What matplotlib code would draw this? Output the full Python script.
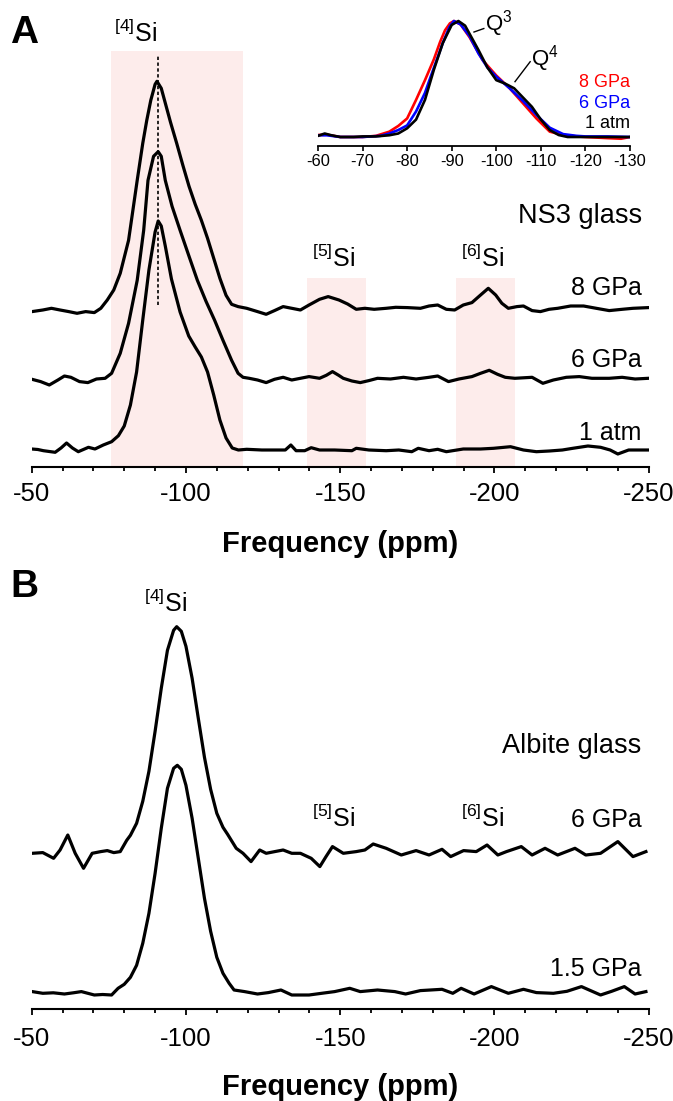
import matplotlib
matplotlib.use("Agg")
import matplotlib.pyplot as plt
from matplotlib.patches import Rectangle

plt.rcParams['font.family'] = ['Liberation Sans', 'DejaVu Sans']
plt.rcParams['mathtext.fontset'] = 'custom'
plt.rcParams['mathtext.rm'] = 'Liberation Sans'
plt.rcParams['mathtext.it'] = 'Liberation Sans:italic'
plt.rcParams['mathtext.bf'] = 'Liberation Sans:bold'

# ---------------- data (ppm, intensity) ----------------
NS3_8GPA = [(-50.1,-3.3),(-53.6,-1.7),(-56.4,0),(-59.2,-1.7),(-62,-3.3),(-64.7,-5),(-67.5,-3.3),(-70.3,-4.3),
            (-72.4,0),(-74.5,8.3),(-76.6,18.3),(-78.7,35),(-81.4,68),(-84.2,128),(-86,165),(-87.3,188),(-88.6,208),
            (-90,224),(-90.6,227),(-92,220),(-93.5,203),(-95,186),(-97,165),(-99,143),(-101,122),(-103,104),(-105,88),
            (-107,70),(-109,50),(-111,30),(-113,13),(-114.8,4),(-116.9,1.7),(-119.7,0),(-123.2,-3.3),(-126,-6),
            (-128.7,-2.3),(-131.5,1.7),(-134.3,0),(-137.1,-1.7),(-139.9,3.3),(-143.3,9),(-146.1,11.7),(-149.6,8.3),
            (-152.4,4.3),(-155.2,-1),(-158,0),(-161,-1),(-164.9,0),(-168,1),(-171.8,0.7),(-176,0),(-178.8,2.3),
            (-181.6,3.3),(-184.4,-1),(-187.1,-1.7),(-189.9,3.3),(-192.7,5.7),(-195.5,13.3),(-198,20),(-200.4,13.3),
            (-202.4,5),(-204.5,0),(-207.3,1.7),(-209.4,2.3),(-212.2,-2.3),(-214.9,-3.3),(-217.7,-1),(-220.5,0),
            (-224.7,2.3),(-228.9,2.3),(-233,0),(-237.2,-2.3),(-241.4,-1),(-244.9,0),(-249.9,0.7)]

NS3_6GPA = [(-50.1,-1),(-52.9,-3.3),(-55.7,-6.7),(-58.5,-1.7),(-60.6,2.3),(-62.7,1),(-65.5,-3.3),(-68.2,-4.3),
            (-71,-0.7),(-73.8,0),(-75.9,5),(-78.7,25),(-81.4,55),(-84.2,98),(-86.3,148),(-87.7,198),(-89.5,222),
            (-91,226.6),(-92,222),(-93.3,198),(-95.5,172),(-98.1,148),(-101,122),(-103.7,98),(-106.5,77),(-109.3,58),
            (-112,38),(-114.8,18),(-116.9,5),(-118.5,1),(-120.5,0),(-123.2,-1.7),(-126,-4.3),(-128.7,-1),(-131.5,1),
            (-134.3,-1.7),(-137.1,0),(-139.9,1.7),(-143.3,0),(-145.5,3),(-147.5,6.7),(-149.5,3),(-151,0),(-153.8,-2.7),
            (-156.5,-4.3),(-159.3,-2.3),(-162.1,0),(-166.3,-0.7),(-170.5,1),(-174.6,-0.7),(-178.8,1),(-181.6,2.3),
            (-185.1,-3.3),(-188.5,-0.7),(-192.7,1.7),(-195.5,5),(-198.3,8),(-201,4),(-203.5,1),(-206.6,0),(-212.2,1),
            (-215.7,-5),(-219.1,-1.7),(-223.3,1),(-227.5,1.7),(-231.6,0),(-237.2,0),(-241.4,1),(-245.6,-0.7),(-249.9,0)]

NS3_1ATM = [(-50,1),(-52,0.5),(-53.8,-0.7),(-57.6,-2.3),(-59.5,2),(-61.3,7),(-63.2,2),(-65.1,-1.7),(-68.4,2.7),
            (-70.5,1),(-73.2,5),(-75.9,8.3),(-78.1,14.3),(-80,24),(-82,45),(-84,78),(-86,130),(-88,180),(-90,218),
            (-91,229),(-92,224),(-93.3,204),(-95.3,171),(-98.1,138),(-100.9,114),(-103,103),(-105,93),(-107,78),
            (-109,55),(-111,30),(-113,12),(-115,2),(-117,0),(-119.7,0.7),(-124.6,0),(-128.7,0),(-132.2,0),(-134,5),
            (-135.7,-0.7),(-138.5,-0.7),(-140.6,2.3),(-143.3,0),(-148.2,0),(-153.8,-0.7),(-155.2,1.7),(-159.3,0),
            (-164.9,-0.7),(-169,0),(-173.2,-1.7),(-175.3,1.7),(-178.8,-0.7),(-181.6,0.7),(-184.4,-1.7),(-189.9,1),
            (-195.5,1),(-199.7,1.7),(-205.2,3.3),(-209.4,0),(-213.6,-1.7),(-217.8,-1),(-222,0),(-225.4,1.7),
            (-230.3,4),(-234.4,2.7),(-237.5,0),(-240,-4),(-243.5,0),(-249.9,0)]

ALB_6GPA = [(-50.2,0),(-53.6,0.7),(-57.1,-5),(-59.2,3.3),(-61.7,18.3),(-64.1,0),(-66.8,-15),(-69.6,0),(-72.4,1.7),
            (-74.5,2.7),(-76.6,0.7),(-78.7,1.7),(-80.8,13),(-82,18),(-84,30),(-86,52),(-88,82),(-90,122),(-92,165),
            (-94,203),(-96,223),(-97,226.6),(-98.5,222),(-100,207),(-102,175),(-104,135),(-106,96),(-108,64),(-110,40),
            (-112,26),(-113.5,19),(-116.3,5),(-118.5,0),(-121.1,-8.3),(-123.9,3.3),(-126,0),(-128.8,1.7),(-131.5,3.3),
            (-134.3,0),(-137.1,0),(-140.6,-5),(-143.4,-13.3),(-145.4,-3.3),(-147.5,6.7),(-151,0),(-155.2,1.7),
            (-158,3.3),(-160.7,9.3),(-164.9,5),(-169.8,-1.7),(-174.6,2.7),(-178.8,-1.7),(-183,4),(-185.8,-3.3),
            (-190,2.7),(-194.1,1.7),(-197.6,8.3),(-201.1,-1.7),(-203.9,1.7),(-208.7,6.7),(-212.2,-1.7),(-216.4,5),
            (-220.5,-1.7),(-226.1,5),(-229.6,-1.7),(-234.4,0),(-240,11.7),(-244.9,-3.3),(-249.1,1.7)]

ALB_15GPA = [(-50.2,1.7),(-53.6,0),(-57,0.5),(-60.6,-0.7),(-63.5,0.5),(-66.1,1.7),(-70.3,-1.7),(-73,-1.2),
             (-75.9,-1.7),(-78,5),(-80,9),(-82,16),(-84,28),(-86,50),(-88,80),(-90,120),(-92,165),(-94,205),(-96,225),
             (-97.2,228),(-98.5,224),(-100,208),(-102,175),(-104,135),(-106,95),(-108,62),(-110,36),(-112,20),(-114,10),
             (-115.6,3.3),(-119,1.7),(-123.2,-0.7),(-126.7,0.7),(-130.8,3.3),(-134.3,-1.7),(-139.9,-1.7),(-144,0),
             (-148.2,1.7),(-153.1,5),(-156.5,1.7),(-162.1,3.3),(-167.7,1.7),(-171.2,-0.7),(-176,2.7),(-183,4),
             (-186.5,0),(-189.2,5),(-193.4,-0.7),(-199,6.7),(-204.5,0),(-209.4,4),(-213.6,0.7),(-219.1,0),(-223.5,2),
             (-228.2,6.7),(-234.4,-1.7),(-238,2),(-242.1,6.7),(-245.6,-0.7),(-249.1,1.7)]

INSET_8GPA = [(-60,0.017),(-62,0.02),(-65,0.0),(-70,0.0),(-73,0.01),(-76,0.046),(-78,0.095),(-80,0.16),(-82,0.32),
              (-84,0.49),(-85,0.58),(-86,0.67),(-87.4,0.82),(-88.5,0.92),(-89.6,0.98),(-90.5,1.0),(-92,0.97),(-94,0.86),
              (-97,0.66),(-100,0.53),(-103,0.42),(-106,0.29),(-109,0.16),(-112,0.046),(-115,0.017),(-118,0.005),
              (-120,0.0),(-125,-0.01),(-128,-0.015),(-130,0.0)]
INSET_6GPA = [(-60,0.015),(-62,0.015),(-65,0.0),(-70,0.0),(-74,0.01),(-76,0.03),(-78,0.06),(-80,0.10),(-82,0.22),
              (-84,0.38),(-85,0.49),(-86.5,0.65),(-88,0.81),(-89.5,0.95),(-90.5,1.0),(-92,0.97),(-94,0.87),(-96,0.72),
              (-98,0.6),(-100,0.52),(-103,0.42),(-106,0.31),(-109,0.19),(-112,0.08),(-115,0.025),(-118,0.01),
              (-120,0.005),(-125,0.005),(-130,0.0)]
INSET_1ATM = [(-60,0.01),(-61.5,0.03),(-63,0.015),(-65,0.0),(-68,0.0),(-70,0.005),(-73,0.005),(-76,0.015),(-78,0.03),
              (-80,0.075),(-82,0.15),(-84,0.32),(-86,0.58),(-88,0.81),(-90,0.966),(-91.5,1.0),(-93,0.96),(-94,0.89),
              (-96,0.75),(-98,0.6),(-100,0.49),(-102,0.46),(-104,0.42),(-106,0.34),(-108,0.26),(-110,0.15),(-112,0.06),
              (-114,0.017),(-116,0.0),(-120,0.0),(-125,0.0),(-130,0.0)]

# shaded regions (ppm) and peak marker
SI4_BAND = (-75.6, -118.5)
SI5_BAND = (-139.2, -158.4)
SI6_BAND = (-187.4, -206.7)
SI4_POS = -91.1

MAIN_TICKS = [-50, -100, -150, -200, -250]
INSET_TICKS = [-60, -70, -80, -90, -100, -110, -120, -130]

# ---------------- figure ----------------
W, H = 673, 1101
fig = plt.figure(figsize=(W / 100, H / 100), dpi=100)

def fx(px):
    return px / W

def fy(py):
    return 1 - py / H

def split(pairs):
    return [p[0] for p in pairs], [p[1] for p in pairs]

PINK = '#fdeceb'
LW = 2.3
FS = 18

def style_axis(ax, pad):
    for s in ['left', 'right', 'top']:
        ax.spines[s].set_visible(False)
    ax.spines['bottom'].set_linewidth(1.5)
    ax.set_yticks([])
    ax.set_xlim(-50, -250)
    ax.set_xticks(MAIN_TICKS)
    ax.set_xticklabels([str(t) for t in MAIN_TICKS])
    ax.set_xticks(list(range(-60, -250, -10)), minor=True)
    ax.tick_params(axis='x', which='major', direction='out', length=4.5, width=1.3,
                   labelsize=18.5, pad=pad)
    ax.tick_params(axis='x', which='minor', direction='out', length=3, width=1.3)
    ax.patch.set_alpha(0)

# ---------------- panel A ----------------
axA = fig.add_axes([fx(31.7), fy(467), (648.7 - 31.7) / W, (467 - 40) / H])
axA.set_ylim(0, 427)
style_axis(axA, 6.0)

axA.add_patch(Rectangle((SI4_BAND[0], 0), SI4_BAND[1] - SI4_BAND[0], 416, color=PINK, lw=0, zorder=0))
axA.add_patch(Rectangle((SI5_BAND[0], 0), SI5_BAND[1] - SI5_BAND[0], 189.3, color=PINK, lw=0, zorder=0))
axA.add_patch(Rectangle((SI6_BAND[0], 0), SI6_BAND[1] - SI6_BAND[0], 189.3, color=PINK, lw=0, zorder=0))
axA.plot([SI4_POS, SI4_POS], [162, 411], color='black', lw=1.2, ls=(0, (2, 1.5)), zorder=1)

for pairs, off in [(NS3_8GPA, 158.7), (NS3_6GPA, 88.7), (NS3_1ATM, 17)]:
    x, y = split(pairs)
    axA.plot(x, [v + off for v in y], color='black', lw=LW, solid_joinstyle='round', zorder=3)

# inset
axI = fig.add_axes([fx(318), fy(146), (630 - 318) / W, (146 - 15) / H])
axI.set_xlim(-60, -130)
axI.set_ylim(-9 / 116, 1 + 6 / 116)
for s in ['left', 'right', 'top']:
    axI.spines[s].set_visible(False)
axI.spines['bottom'].set_linewidth(1.3)
axI.set_yticks([])
axI.set_xticks(INSET_TICKS)
axI.set_xticklabels([str(t) for t in INSET_TICKS])
axI.tick_params(axis='x', direction='out', length=3.6, width=1.2, labelsize=11.8, pad=2.2)
axI.patch.set_alpha(0)
for pairs, col in [(INSET_8GPA, 'red'), (INSET_6GPA, 'blue'), (INSET_1ATM, 'black')]:
    x, y = split(pairs)
    axI.plot(x, y, color=col, lw=1.9, solid_joinstyle='round')
axI.plot([-95.0, -97.2], [0.905, 0.935], color='black', lw=1.0)
axI.plot([-104.2, -107.6], [0.477, 0.649], color='black', lw=1.0)
axI.text(-97.4, 0.914, r'Q$^{3}$', fontsize=16, ha='left', va='baseline')
axI.text(-107.8, 0.62, r'Q$^{4}$', fontsize=16, ha='left', va='baseline')

fig.text(fx(630), fy(87.3), '8 GPa', color='red', fontsize=13, ha='right', va='baseline')
fig.text(fx(630), fy(107.7), '6 GPa', color='blue', fontsize=13, ha='right', va='baseline')
fig.text(fx(630), fy(128.3), '1 atm', color='black', fontsize=13, ha='right', va='baseline')

# panel A labels
fig.text(fx(10), fy(43), 'A', fontsize=28, fontweight='bold', ha='left', va='baseline')
fig.text(fx(135.5), fy(42.3), r'$^{[4]}$Si', fontsize=FS, ha='center', va='baseline')
fig.text(fx(333.5), fy(267.3), r'$^{[5]}$Si', fontsize=FS, ha='center', va='baseline')
fig.text(fx(482.4), fy(267.3), r'$^{[6]}$Si', fontsize=FS, ha='center', va='baseline')
fig.text(fx(641.7), fy(222.7), 'NS3 glass', fontsize=19.5, ha='right', va='baseline')
fig.text(fx(641.5), fy(295), '8 GPa', fontsize=FS, ha='right', va='baseline')
fig.text(fx(641.5), fy(366.7), '6 GPa', fontsize=FS, ha='right', va='baseline')
fig.text(fx(641.5), fy(440), '1 atm', fontsize=FS, ha='right', va='baseline')
fig.text(fx(340), fy(551.7), 'Frequency (ppm)', fontsize=21, fontweight='bold', ha='center', va='baseline')

# ---------------- panel B ----------------
axB = fig.add_axes([fx(31.7), fy(1009.3), (648.7 - 31.7) / W, (1009.3 - 590) / H])
axB.set_ylim(0, 419.3)
style_axis(axB, 8.0)
for pairs, off in [(ALB_6GPA, 156), (ALB_15GPA, 16)]:
    x, y = split(pairs)
    axB.plot(x, [v + off for v in y], color='black', lw=LW, solid_joinstyle='round', zorder=3)

fig.text(fx(10), fy(597), 'B', fontsize=28, fontweight='bold', ha='left', va='baseline')
fig.text(fx(165.3), fy(612.3), r'$^{[4]}$Si', fontsize=FS, ha='center', va='baseline')
fig.text(fx(641.6), fy(752.7), 'Albite glass', fontsize=19.5, ha='right', va='baseline')
fig.text(fx(333.5), fy(826.7), r'$^{[5]}$Si', fontsize=FS, ha='center', va='baseline')
fig.text(fx(482.5), fy(826.7), r'$^{[6]}$Si', fontsize=FS, ha='center', va='baseline')
fig.text(fx(641.6), fy(826.7), '6 GPa', fontsize=FS, ha='right', va='baseline')
fig.text(fx(641.6), fy(976), '1.5 GPa', fontsize=FS, ha='right', va='baseline')
fig.text(fx(340), fy(1095), 'Frequency (ppm)', fontsize=21, fontweight='bold', ha='center', va='baseline')

fig.savefig('out.png', dpi=100)
